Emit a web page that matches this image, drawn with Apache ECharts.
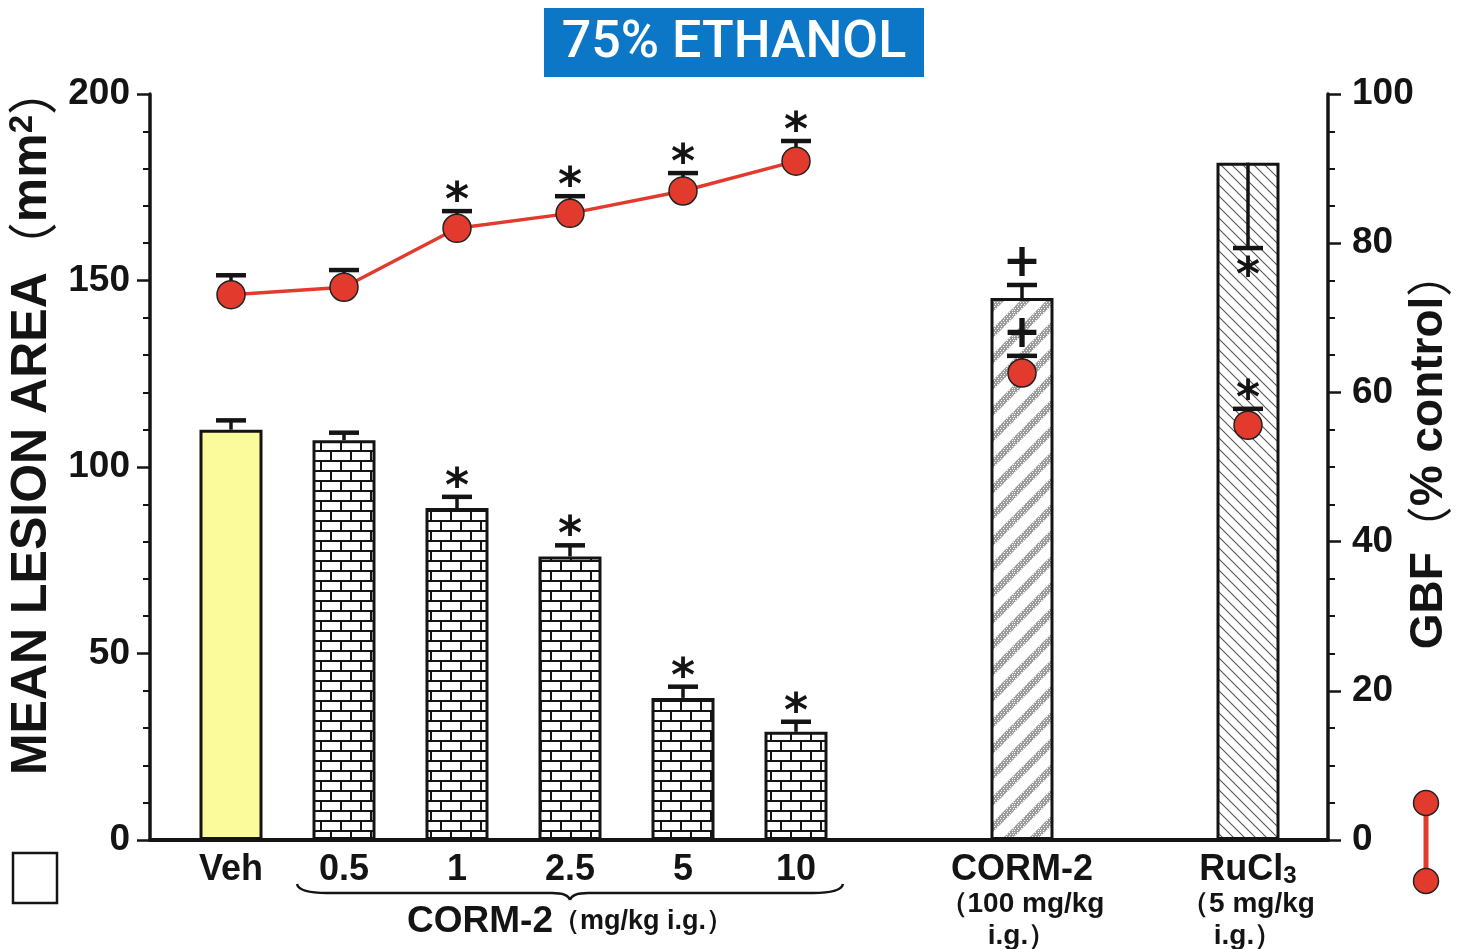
<!DOCTYPE html>
<html>
<head>
<meta charset="utf-8">
<script src="https://cdn.jsdelivr.net/npm/echarts@6/dist/echarts.min.js"></script>
<style>
  html, body { margin: 0; padding: 0; background: #fff; }
  #chart { width: 1460px; height: 949px; }
</style>
</head>
<body>
<div id="chart"></div>
<script>
// categories along the bottom ('' = empty slot)
const categories = ['Veh', '0.5', '1', '2.5', '5', '10', '', 'CORM-2', '', 'RuCl3'];
const catSub = ['', '', '', '', '', '', '', '（100 mg/kg\ni.g.）', '', '（5 mg/kg\ni.g.）'];

// mean lesion area (mm2), left axis
const lesion = [110, 107.2, 89, 76, 38.1, 29, null, 145.3, null, 181.6];
const lesionErr = [112.5, 109.2, 92, 79, 41.1, 31.7, null, 148.8, null, 158.7];
const lesionMark = ['', '', '*', '*', '*', '*', '', '+', '', '*'];

// GBF (% control), right axis
const gbf = [73.1, 74.1, 82, 84, 87, 91, null, 62.6, null, 55.6];
const gbfErr = [75.7, 76.4, 84.3, 86.3, 89.4, 93.7, null, 64.9, null, 57.8];
const gbfMark = ['', '', '*', '*', '*', '*', '', '+', '', '*'];

const leftTicks = { min: 0, max: 200, interval: 50 };
const rightTicks = { min: 0, max: 100, interval: 20 };

const RED = '#e23b2e';
const INK = '#141414';
const FONT = '"Liberation Sans", Arial, sans-serif';
const CJK = '"Noto Sans CJK SC", sans-serif';

function makeTile(w, h, draw) {
    const c = document.createElement('canvas');
    c.width = w; c.height = h;
    draw(c.getContext('2d'), w, h);
    return c;
}

// brick wall
const brick = makeTile(40, 20, (g) => {
    g.fillStyle = '#fff'; g.fillRect(0, 0, 40, 20);
    g.fillStyle = INK;
    g.fillRect(0, 0, 40, 2);
    g.fillRect(0, 10, 40, 2);
    g.fillRect(0, 2, 2, 8);
    g.fillRect(20, 2, 2, 8);
    g.fillRect(10, 12, 2, 8);
    g.fillRect(30, 12, 2, 8);
});

// wide grey stripes "/"
const stripes = makeTile(26, 26, (g, w, h) => {
    g.fillStyle = '#fff'; g.fillRect(0, 0, w, h);
    g.strokeStyle = '#9c9c9c';
    g.lineWidth = 7;
    g.beginPath();
    for (let k = -1; k <= 2; k++) {
        g.moveTo(k * w - h - 4, h + 4);
        g.lineTo(k * w + 4, -4);
    }
    g.stroke();
    // speckle the band a little
    g.fillStyle = '#fff';
    for (let y = 0; y < h; y += 2) {
        for (let x = (y / 2) % 2; x < w; x += 3) g.fillRect(x, y, 1, 1);
    }
});

// thin hatch "\"
const hatch = makeTile(11, 11, (g, w, h) => {
    g.fillStyle = '#fff'; g.fillRect(0, 0, w, h);
    g.strokeStyle = '#555';
    g.lineWidth = 1.1;
    g.beginPath();
    g.moveTo(-2, -2); g.lineTo(w + 2, h + 2);
    g.moveTo(-2 - w, -2); g.lineTo(2, h + 2);
    g.moveTo(w - 2, -2); g.lineTo(2 * w + 2, h + 2);
    g.stroke();
});

const barFills = [
    '#fbfb9c',
    { image: brick, repeat: 'repeat' }, { image: brick, repeat: 'repeat' },
    { image: brick, repeat: 'repeat' }, { image: brick, repeat: 'repeat' },
    { image: brick, repeat: 'repeat' },
    null,
    { image: stripes, repeat: 'repeat' },
    null,
    { image: hatch, repeat: 'repeat' }
];

function errRows(vals, errs, marks) {
    const rows = [];
    vals.forEach((v, i) => {
        if (v != null) rows.push({ value: [i, v, errs[i]], mark: marks[i] });
    });
    return rows;
}

function errRender(rows) {
    return function (params, api) {
        const row = rows[params.dataIndex];
        const p0 = api.coord([api.value(0), api.value(1)]);
        const p1 = api.coord([api.value(0), api.value(2)]);
        const up = p1[1] < p0[1];
        const x = p0[0];
        const kids = [
            { type: 'line', shape: { x1: x, y1: p0[1], x2: x, y2: p1[1] },
              style: { stroke: INK, lineWidth: 3.5 } },
            { type: 'line', shape: { x1: x - 15, y1: p1[1], x2: x + 15, y2: p1[1] },
              style: { stroke: INK, lineWidth: 4.5 } }
        ];
        if (row.mark) {
            let ty;
            if (row.mark === '+') ty = p1[1] - 21;
            else ty = up ? p1[1] - 8 : p1[1] + 30;
            kids.push({
                type: 'text',
                style: {
                    text: row.mark, x: x, y: ty,
                    align: 'center', verticalAlign: 'middle',
                    fill: INK, font: 'bold 46px "DejaVu Sans", sans-serif'
                }
            });
        }
        return { type: 'group', children: kids };
    };
}

const lesionRows = errRows(lesion, lesionErr, lesionMark);
const gbfRows = errRows(gbf, gbfErr, gbfMark);

const chart = echarts.init(document.getElementById('chart'));

const axisLabelFont = { fontSize: 37, fontWeight: 'bold', color: INK, fontFamily: FONT };

chart.setOption({
    animation: false,
    backgroundColor: '#fff',
    grid: [
        { left: 150, right: 132, top: 94, bottom: 109, outerBoundsMode: 'none' },
        { left: 174.5, right: 155.5, top: 94, bottom: 109, outerBoundsMode: 'none' }
    ],
    xAxis: [
        {
            type: 'value', gridIndex: 0, min: 0, max: 1,
            axisLine: { show: true, onZero: false, lineStyle: { color: INK, width: 4 } },
            axisTick: { show: false }, axisLabel: { show: false }, splitLine: { show: false }
        },
        {
            type: 'category', gridIndex: 1, data: categories,
            axisLine: { show: false }, axisTick: { show: false }, splitLine: { show: false },
            axisLabel: {
                interval: 0, margin: 12, color: INK,
                formatter: (val, idx) => {
                    let head = val === 'RuCl3' ? '{a|RuCl}{s|3}' : '{a|' + val + '}';
                    if (catSub[idx]) {
                        head += '\n' + catSub[idx].split('\n').map(t => '{b|' + t + '}').join('\n');
                    }
                    return head;
                },
                rich: {
                    a: { fontSize: 36, fontWeight: 'bold', fontFamily: FONT, color: INK, lineHeight: 36 },
                    s: { fontSize: 24, fontWeight: 'bold', fontFamily: FONT, color: INK, lineHeight: 36, verticalAlign: 'bottom', padding: [14, 0, 0, 0] },
                    b: { fontSize: 28, fontWeight: 'bold', fontFamily: FONT, color: INK, lineHeight: 32 }
                }
            }
        }
    ],
    yAxis: [
        {
            type: 'value', gridIndex: 0, position: 'left',
            min: leftTicks.min, max: leftTicks.max, interval: leftTicks.interval,
            name: 'MEAN LESION AREA{p|（}mm{sup|2}{p|）}',
            nameLocation: 'middle', nameRotate: 90, nameGap: 89,
            nameTextStyle: {
                fontSize: 50, fontWeight: 'bold', color: INK, fontFamily: FONT,
                padding: [0, 0, 0, 94],
                rich: {
                    p: { fontSize: 50, fontWeight: 'normal', color: INK, fontFamily: CJK },
                    sup: { fontSize: 33, fontWeight: 'bold', color: INK, fontFamily: FONT, verticalAlign: 'top', padding: [0, 0, 18, 0] }
                }
            },
            axisLine: { show: true, lineStyle: { color: INK, width: 3.5 } },
            axisTick: { show: true, length: 13, lineStyle: { color: INK, width: 2.5 } },
            minorTick: { show: true, splitNumber: 5, length: 7, lineStyle: { color: INK, width: 2 } },
            axisLabel: Object.assign({ margin: 20 }, axisLabelFont),
            splitLine: { show: false }
        },
        {
            type: 'value', gridIndex: 0, position: 'right',
            min: rightTicks.min, max: rightTicks.max, interval: rightTicks.interval,
            name: 'GBF{p|（}% control{p|）}',
            nameLocation: 'middle', nameRotate: 90, nameGap: 78, nameMoveOverlap: false,
            nameTextStyle: {
                fontSize: 46, fontWeight: 'bold', color: INK, fontFamily: FONT,
                padding: [0, 0, 0, 34],
                rich: {
                    p: { fontSize: 46, fontWeight: 'normal', color: INK, fontFamily: CJK }
                }
            },
            axisLine: { show: true, lineStyle: { color: INK, width: 3.5 } },
            axisTick: { show: true, length: 13, lineStyle: { color: INK, width: 2.5 } },
            minorTick: { show: true, splitNumber: 4, length: 7, lineStyle: { color: INK, width: 2 } },
            axisLabel: Object.assign({ margin: 24 }, axisLabelFont),
            splitLine: { show: false }
        },
        { type: 'value', gridIndex: 1, min: leftTicks.min, max: leftTicks.max, show: false },
        { type: 'value', gridIndex: 1, min: rightTicks.min, max: rightTicks.max, show: false }
    ],
    series: [
        {
            type: 'bar', xAxisIndex: 1, yAxisIndex: 2, barWidth: 63, z: 1,
            data: lesion.map((v, i) => v == null ? null : {
                value: v,
                itemStyle: { color: barFills[i], borderColor: INK, borderWidth: 3 }
            })
        },
        {
            type: 'custom', xAxisIndex: 1, yAxisIndex: 2, z: 2,
            renderItem: errRender(lesionRows),
            data: lesionRows.map(r => r.value)
        },
        {
            type: 'custom', xAxisIndex: 1, yAxisIndex: 3, z: 2,
            renderItem: errRender(gbfRows),
            data: gbfRows.map(r => r.value)
        },
        {
            type: 'line', xAxisIndex: 1, yAxisIndex: 3, z: 3,
            data: gbf, connectNulls: false,
            symbol: 'circle', symbolSize: 28, showAllSymbol: true,
            lineStyle: { color: RED, width: 3.5 },
            itemStyle: { color: RED, borderColor: '#222', borderWidth: 1.5 }
        }
    ]
});

// brace under the dose group, title box, legend keys
const bx0 = chart.convertToPixel({ xAxisIndex: 1 }, categories[1]) - 47;
const bx1 = chart.convertToPixel({ xAxisIndex: 1 }, categories[5]) + 47;
const bm = (bx0 + bx1) / 2;
const braceStyle = { fill: 'none', stroke: INK, lineWidth: 2.5 };

chart.setOption({
    graphic: [
        { type: 'rect', shape: { x: 544, y: 8, width: 380, height: 69 }, style: { fill: '#0b77c6' } },
        { type: 'text', x: 734, y: 44,
          style: { text: '75% ETHANOL', align: 'center', verticalAlign: 'middle', fill: '#fff',
                   font: '500 52px Roboto, sans-serif' } },
        { type: 'bezierCurve', shape: { x1: bx0, y1: 884, cpx1: bx0 + 2, cpy1: 893, x2: bx0 + 30, y2: 893 }, style: braceStyle },
        { type: 'line', shape: { x1: bx0 + 30, y1: 893, x2: bm - 18, y2: 893 }, style: braceStyle },
        { type: 'bezierCurve', shape: { x1: bm - 18, y1: 893, cpx1: bm - 2, cpy1: 893, x2: bm, y2: 900 }, style: braceStyle },
        { type: 'bezierCurve', shape: { x1: bm, y1: 900, cpx1: bm + 2, cpy1: 893, x2: bm + 18, y2: 893 }, style: braceStyle },
        { type: 'line', shape: { x1: bm + 18, y1: 893, x2: bx1 - 30, y2: 893 }, style: braceStyle },
        { type: 'bezierCurve', shape: { x1: bx1 - 30, y1: 893, cpx1: bx1 - 2, cpy1: 893, x2: bx1, y2: 884 }, style: braceStyle },
        { type: 'text', x: bm, y: 922,
          style: { rich: {
                      a: { fontSize: 37, fontWeight: 'bold', fontFamily: FONT, fill: INK },
                      b: { fontSize: 27, fontWeight: 'bold', fontFamily: FONT, fill: INK }
                   },
                   text: '{a|CORM-2}{b|（mg/kg i.g.）}', align: 'center', verticalAlign: 'middle' } },
        { type: 'rect', shape: { x: 13, y: 853, width: 44, height: 50 },
          style: { fill: '#fff', stroke: INK, lineWidth: 2.5 } },
        { type: 'line', shape: { x1: 1426, y1: 803, x2: 1426, y2: 881 },
          style: { stroke: RED, lineWidth: 5 } },
        { type: 'circle', shape: { cx: 1426, cy: 803, r: 12.5 },
          style: { fill: RED, stroke: '#222', lineWidth: 1.5 } },
        { type: 'circle', shape: { cx: 1426, cy: 881, r: 12.5 },
          style: { fill: RED, stroke: '#222', lineWidth: 1.5 } }
    ]
});
</script>
</body>
</html>
